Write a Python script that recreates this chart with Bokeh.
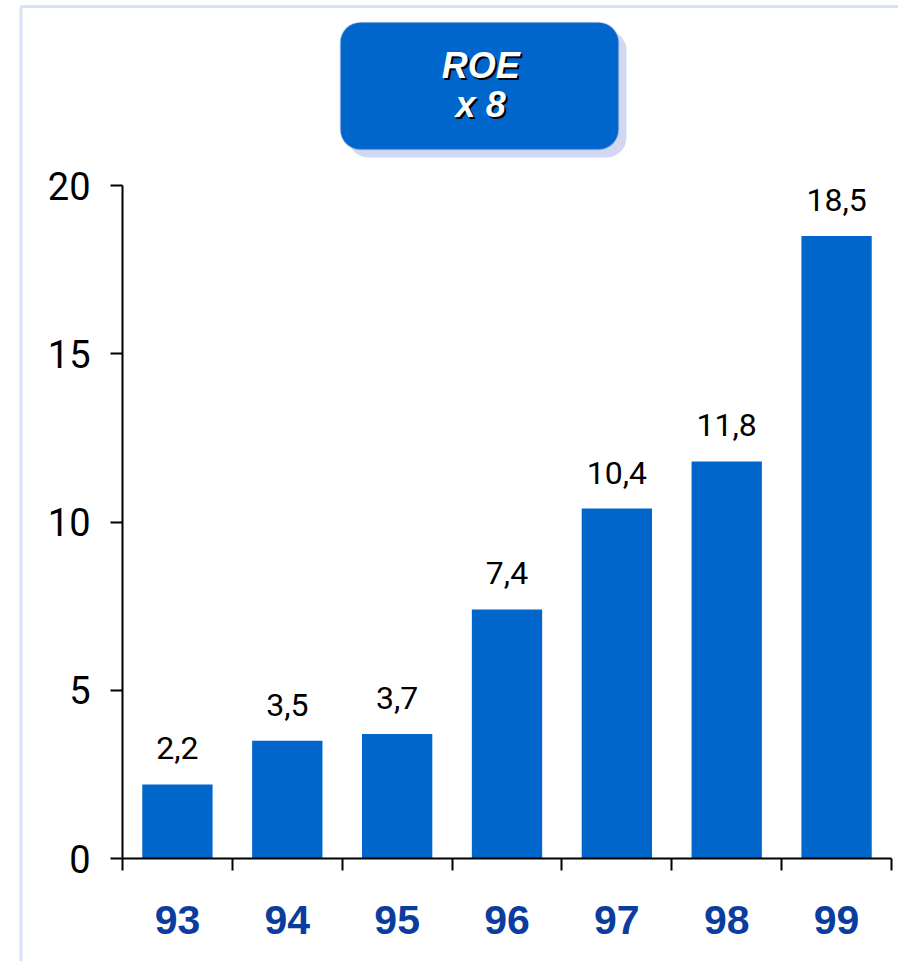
from bokeh.plotting import figure
from bokeh.models import (ColumnDataSource, Range1d, FixedTicker, BoxAnnotation,
                          LinearAxis)
from bokeh.core.properties import value
from bokeh.embed import file_html
from bokeh.resources import INLINE

# ---- data ----
years = ["93", "94", "95", "96", "97", "98", "99"]
roe = [2.2, 3.5, 3.7, 7.4, 10.4, 11.8, 18.5]
y_ticks = [0, 5, 10, 15, 20]
title_lines = ["ROE", "x 8"]

value_labels = [f"{v:.1f}".replace(".", ",") for v in roe]
xpos = [i + 0.5 for i in range(len(years))]

src = ColumnDataSource(dict(x=xpos, top=roe, label=value_labels))

NUMFONT = "Roboto"

W, H = 898, 961
X0PX, Y0PX = 122, 858            # pixel position of data origin
PXU = (891 - 122) / 7.0          # pixels per x unit
PYU = (858 - 185) / 20.0         # pixels per y unit
p = figure(width=W, height=H, output_backend="svg", toolbar_location=None,
           x_range=Range1d(-X0PX / PXU, (W - X0PX) / PXU),
           y_range=Range1d(-(H - Y0PX) / PYU, Y0PX / PYU),
           x_axis_type=None, y_axis_type=None,
           min_border_left=0, min_border_right=0, min_border_top=0,
           min_border_bottom=0)
p.outline_line_color = None
p.background_fill_color = "white"
p.border_fill_color = "white"

# bars
p.vbar(x="x", top="top", bottom=0, width=0.64, source=src,
       fill_color="#0066cc", line_color=None)

# value labels
p.text(x="x", y="top", text="label", source=src, text_align="center",
       text_baseline="alphabetic", y_offset=-36,
       text_font=value(NUMFONT), text_font_size="32px",
       text_color="#000000")

# y axis, fixed at x = 0
yax = LinearAxis(ticker=FixedTicker(ticks=y_ticks), bounds=(0, 20),
                 fixed_location=0)
yax.axis_line_color = "#000000"
yax.axis_line_width = 2
yax.major_tick_line_color = "#000000"
yax.major_tick_line_width = 2
yax.major_tick_out = 12
yax.major_tick_in = 0
yax.minor_tick_line_color = None
yax.major_label_standoff = 20
yax.major_label_text_font = NUMFONT
yax.major_label_text_font_size = "38px"
yax.major_label_text_color = "#000000"
p.add_layout(yax, "left")

# x axis: labels at centres, ticks at category boundaries (minor ticks)
xax = LinearAxis(ticker=FixedTicker(ticks=xpos,
                                    minor_ticks=list(range(len(years) + 1))),
                 bounds=(0, 7), fixed_location=0)
xax.major_label_overrides = {x: y for x, y in zip(xpos, years)}
xax.axis_line_color = "#000000"
xax.axis_line_width = 2
xax.major_tick_line_color = None
xax.major_tick_out = 0
xax.major_tick_in = 0
xax.minor_tick_line_color = "#000000"
xax.minor_tick_line_width = 2
xax.minor_tick_out = 12
xax.minor_tick_in = 0
xax.major_label_standoff = 35
xax.major_label_text_font = "Liberation Sans"
xax.major_label_text_font_style = "bold"
xax.major_label_text_font_size = "41px"
xax.major_label_text_color = "#0b3d9e"
p.add_layout(xax, "below")

# page border (light blue)
p.add_layout(BoxAnnotation(left=(20.5 - X0PX) / PXU, right=8,
                           top=(Y0PX - 6) / PYU, bottom=-5,
                           fill_alpha=0, line_color="#7a9fe2", line_width=3,
                           level="overlay"))

# title box with shadow
bx0, bx1, by0, by1 = 1.984, 4.515, 21.07, 24.844
p.add_layout(BoxAnnotation(left=bx0 + 0.073, right=bx1 + 0.073,
                           top=by1 - 0.238, bottom=by0 - 0.238,
                           fill_color="#d3d8f2", fill_alpha=1, line_color=None,
                           border_radius=20))
p.add_layout(BoxAnnotation(left=bx0, right=bx1, top=by1, bottom=by0,
                           fill_color="#0066cc", fill_alpha=1,
                           line_color="#6f95dc", line_width=1.5,
                           border_radius=20))

tsrc = ColumnDataSource(dict(x=[3.26, 3.26], y=[23.58, 22.42], t=title_lines))
p.text(x="x", y="y", text="t", source=tsrc, text_align="center",
       text_baseline="alphabetic", x_offset=2, y_offset=2,
       text_font=value("Liberation Sans"), text_font_style="bold italic",
       text_font_size="36px", text_color="#000000", level="overlay")
p.text(x="x", y="y", text="t", source=tsrc, text_align="center",
       text_baseline="alphabetic",
       text_font=value("Liberation Sans"), text_font_style="bold italic",
       text_font_size="36px", text_color="#ffffff", level="overlay")

open("out.html", "w").write(file_html(p, INLINE))
